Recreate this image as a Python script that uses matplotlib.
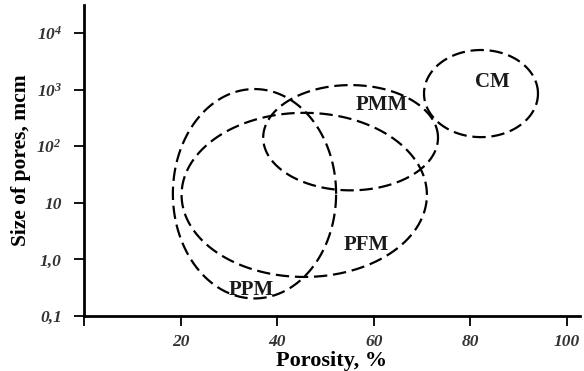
import numpy as np
import matplotlib
matplotlib.use("Agg")
import matplotlib.pyplot as plt

# Regions (ellipses in porosity / log10 pore size space)
names = ["PPM", "PFM", "PMM", "CM"]
center_porosity = [35.3, 45.6, 55.2, 82.2]          # %
center_log_size = [1.16, 1.14, 2.15, 2.93]          # log10(mcm)
half_width_porosity = [16.9, 25.4, 18.1, 11.8]      # %
half_height_decades = [1.85, 1.45, 0.93, 0.77]      # decades

label_x = [34.6, 58.4, 61.7, 84.5]
label_y = [0.29, 1.79, 535, 1360]

xticks = [0, 20, 40, 60, 80, 100]
xtick_labels = ["", "20", "40", "60", "80", "100"]
yticks = [0.1, 1, 10, 100, 1000, 10000]
ytick_labels = ["0,1", "1,0", "10", r"$\mathrm{10}^{2}$", r"$\mathrm{10}^{3}$", r"$\mathrm{10}^{4}$"]

plt.rcParams["mathtext.fontset"] = "custom"
plt.rcParams["mathtext.rm"] = "Liberation Serif:bold:italic"
plt.rcParams["mathtext.it"] = "Liberation Serif:bold:italic"
plt.rcParams["mathtext.bf"] = "Liberation Serif:bold:italic"

fig = plt.figure(figsize=(5.84, 3.71), dpi=100)
ax = fig.add_axes([84/584, 55/371, 496/584, 311/371])
ax.set_yscale("log")
ax.set_xlim(0, 102.7)
ax.set_ylim(0.1, 10**4.495)

t = np.linspace(0, 2*np.pi, 400)
for cx, cy, hw, hh in zip(center_porosity, center_log_size, half_width_porosity, half_height_decades):
    xs = cx + hw*np.cos(t)
    ys = 10**(cy + hh*np.sin(t))
    ax.plot(xs, ys, color="black", lw=1.6, linestyle=(0, (6.0, 2.6)))

for n, lx, ly in zip(names, label_x, label_y):
    ax.text(lx, ly, n, ha="center", va="center", fontfamily="Liberation Serif",
            fontweight="bold", fontsize=15, color="#1a1a1a")

for s in ["top", "right"]:
    ax.spines[s].set_visible(False)
for s in ["left", "bottom"]:
    ax.spines[s].set_linewidth(2.0)

ax.set_xticks(xticks)
ax.set_xticklabels(xtick_labels)
ax.set_yticks(yticks)
ax.set_yticklabels(ytick_labels)
ax.minorticks_off()
ax.tick_params(axis="both", direction="out", length=7, width=1.3)
ax.tick_params(axis="x", pad=6)
ax.tick_params(axis="y", pad=9)
for lab in ax.get_xticklabels() + ax.get_yticklabels():
    lab.set_fontfamily("Liberation Serif")
    lab.set_fontweight("bold")
    lab.set_fontstyle("italic")
    lab.set_fontsize(12.5)
    lab.set_color("#333333")

ax.set_xlabel("Porosity, %", fontfamily="Liberation Serif", fontweight="bold",
              fontsize=16, labelpad=1)
ax.set_ylabel("Size of pores, mcm", fontfamily="Liberation Serif", fontweight="bold",
              fontsize=15.5, labelpad=4)

fig.savefig("out.png", dpi=100)
